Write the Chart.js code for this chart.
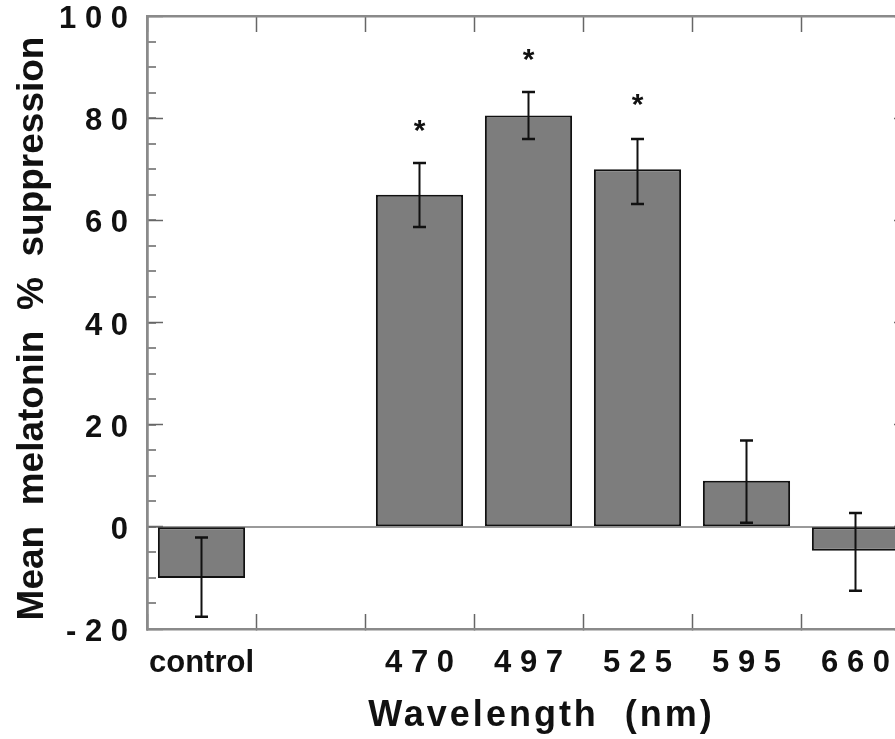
<!DOCTYPE html>
<html>
<head>
<meta charset="utf-8">
<script src="https://cdn.jsdelivr.net/npm/chart.js@4/dist/chart.umd.min.js"></script>
<style>
  html, body { margin: 0; padding: 0; background: #fff; overflow: hidden; }
  #wrap { width: 895px; height: 739px; overflow: hidden; }
  canvas { display: block; }
</style>
</head>
<body>
<div id="wrap"><canvas id="c" width="960" height="739" style="width:960px;height:739px"></canvas></div>
<script>
// ---- data ----
const categories = ['control', '', '470', '497', '525', '595', '660'];
const xTickLabels = ['control', '', '4 7 0', '4 9 7', '5 2 5', '5 9 5', '6 6 0'];
const meanSuppression = [-10, null, 65, 80.5, 70, 9, -4.7];
const errorHigh = [-2.1, null, 71.2, 85.1, 75.9, 16.9, 2.7];
const errorLow = [-17.6, null, 58.7, 75.9, 63.2, 0.8, -12.5];
const starLevels = [null, null, 78.5, 92.4, 83.7, null, null];
const yTickValues = [-20, 0, 20, 40, 60, 80, 100];
const yTickLabels = ['- 2 0', '0', '2 0', '4 0', '6 0', '8 0', '1 0 0'];

const FAMILY = "'Liberation Sans', Arial, Helvetica, sans-serif";
const AXIS_COLOR = '#8a8a8a';
const TICK_COLOR = '#666';
const TEXT_COLOR = '#111';

const errorBarPlugin = {
  id: 'errorBars',
  afterDatasetsDraw(chart) {
    const ctx = chart.ctx;
    const xs = chart.scales.x, ys = chart.scales.y;
    ctx.save();
    ctx.strokeStyle = '#111';
    ctx.lineCap = 'butt';
    for (let i = 0; i < categories.length; i++) {
      if (errorHigh[i] == null || errorLow[i] == null) continue;
      const x = xs.getPixelForValue(i);
      const yH = ys.getPixelForValue(errorHigh[i]);
      const yL = ys.getPixelForValue(errorLow[i]);
      ctx.lineWidth = 2;
      ctx.beginPath();
      ctx.moveTo(x, yH); ctx.lineTo(x, yL);
      ctx.stroke();
      ctx.lineWidth = 2.5;
      ctx.beginPath();
      ctx.moveTo(x - 6.5, yH); ctx.lineTo(x + 6.5, yH);
      ctx.moveTo(x - 6.5, yL); ctx.lineTo(x + 6.5, yL);
      ctx.stroke();
    }
    // significance markers
    ctx.fillStyle = '#111';
    ctx.font = 'bold 30px ' + FAMILY;
    ctx.textAlign = 'center';
    ctx.textBaseline = 'middle';
    for (let i = 0; i < categories.length; i++) {
      if (starLevels[i] == null) continue;
      const x = xs.getPixelForValue(i);
      const y = ys.getPixelForValue(starLevels[i]);
      ctx.fillText('*', x, y + 6);
    }
    ctx.restore();
  }
};

// tracked (letter-spaced) x-axis title and slightly lowered y-axis title, as in the printed figure
const titleTweakPlugin = {
  id: 'titleTweak',
  afterLayout(chart) {
    const sx = chart.scales.x;
    if (sx && !sx._tweaked) {
      const orig = sx.drawTitle;
      sx.drawTitle = function () {
        const ctx = this.ctx;
        ctx.save();
        ctx.letterSpacing = '3px';
        orig.call(this);
        ctx.restore();
      };
      sx._tweaked = true;
    }
    const sy = chart.scales.y;
    if (sy && !sy._tweaked) {
      const origY = sy.drawTitle;
      sy.drawTitle = function () {
        const ctx = this.ctx;
        ctx.save();
        ctx.translate(0, 6);
        origY.call(this);
        ctx.restore();
      };
      sy._tweaked = true;
    }
  }
};

const tickFont = { family: FAMILY, size: 31, weight: 'bold' };
const noPad = s => { s.paddingTop = 0; s.paddingBottom = 0; s.paddingLeft = 0; s.paddingRight = 0; };

new Chart(document.getElementById('c'), {
  type: 'bar',
  data: {
    labels: categories,
    datasets: [{
      data: meanSuppression,
      xAxisID: 'x',
      yAxisID: 'y',
      backgroundColor: '#7d7d7d',
      borderColor: '#111',
      borderWidth: 2,
      borderSkipped: false,
      barPercentage: 0.8,
      categoryPercentage: 1.0
    }]
  },
  options: {
    responsive: false,
    animation: false,
    devicePixelRatio: 1,
    layout: { padding: 0, autoPadding: false },
    plugins: { legend: { display: false }, tooltip: { enabled: false } },
    scales: {
      x: {
        type: 'category',
        position: 'bottom',
        offset: true,
        grid: { display: true, offset: true, drawOnChartArea: false, tickLength: -15, tickColor: TICK_COLOR, tickWidth: 1.5 },
        border: { display: true, color: AXIS_COLOR, width: 2.5 },
        ticks: {
          autoSkip: false, maxRotation: 0, minRotation: 0,
          padding: 31, color: TEXT_COLOR, font: tickFont,
          callback: (v, i) => xTickLabels[i]
        },
        title: {
          display: true, text: '  Wavelength  (nm)', color: TEXT_COLOR,
          font: { family: FAMILY, size: 36, weight: 'bold', lineHeight: 1 },
          padding: { top: 0, bottom: 5 }
        },
        afterFit: s => { s.height = 110; noPad(s); }
      },
      xTop: {
        type: 'category',
        position: 'top',
        offset: true,
        grid: { display: true, offset: true, drawOnChartArea: false, tickLength: -16, tickColor: TICK_COLOR, tickWidth: 1.5 },
        border: { display: true, color: AXIS_COLOR, width: 2.5 },
        ticks: { display: false, autoSkip: false },
        afterFit: s => { s.height = 16; noPad(s); }
      },
      yMinor: {
        type: 'linear',
        position: 'left',
        weight: 0,
        min: -20, max: 100,
        ticks: { display: false, stepSize: 5 },
        grid: {
          display: true, drawOnChartArea: true, tickLength: -9,
          color: c => (c.tick && c.tick.value === 0) ? '#9a9a9a' : 'rgba(0,0,0,0)',
          lineWidth: 2,
          tickColor: TICK_COLOR, tickWidth: 1.5
        },
        border: { display: true, color: AXIS_COLOR, width: 2.5 },
        afterFit: s => { s.width = 0; noPad(s); }
      },
      y: {
        type: 'linear',
        position: 'left',
        weight: 1,
        min: -20, max: 100,
        ticks: {
          stepSize: 20, padding: 35, labelOffset: 3.5,
          color: TEXT_COLOR, font: tickFont,
          callback: v => yTickLabels[yTickValues.indexOf(v)]
        },
        grid: { display: true, drawOnChartArea: false, tickLength: -16, tickColor: TICK_COLOR, tickWidth: 1.5 },
        border: { display: true, color: AXIS_COLOR, width: 2.5 },
        title: {
          display: true, text: 'Mean  melatonin  %  suppression', color: TEXT_COLOR,
          font: { family: FAMILY, size: 37, weight: 'bold', lineHeight: 1 },
          padding: { top: 14, bottom: 0 }
        },
        afterFit: s => { s.width = 147; noPad(s); }
      },
      yRight: {
        type: 'linear',
        position: 'right',
        min: -20, max: 100,
        ticks: { display: false, stepSize: 20 },
        grid: { display: true, drawOnChartArea: false, tickLength: -16, tickColor: TICK_COLOR, tickWidth: 1.5 },
        border: { display: true, color: AXIS_COLOR, width: 2.5 },
        afterFit: s => { s.width = 50; noPad(s); }
      }
    }
  },
  plugins: [errorBarPlugin, titleTweakPlugin]
});
</script>
</body>
</html>
